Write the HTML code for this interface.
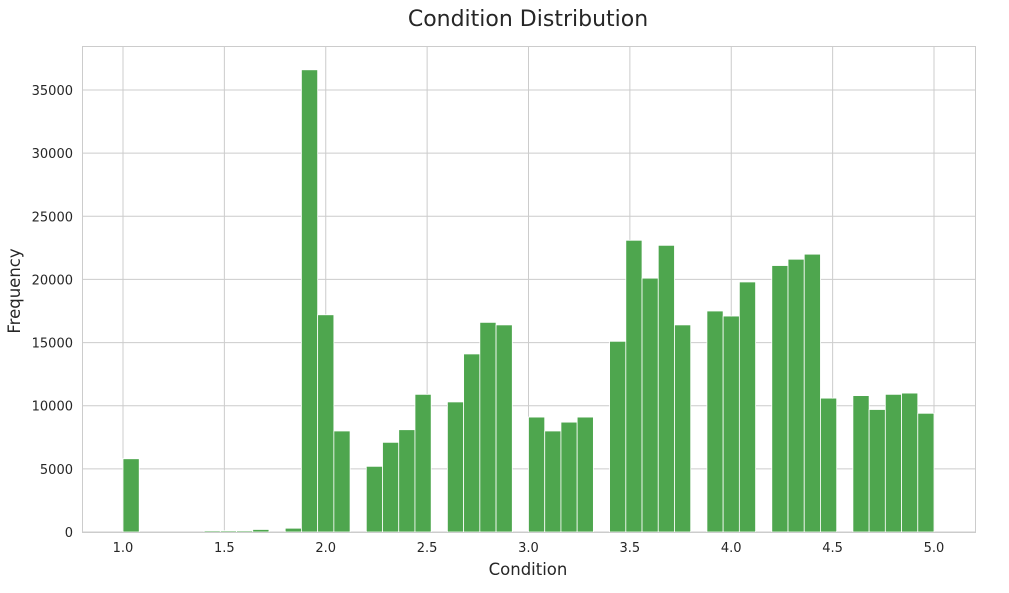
<!DOCTYPE html>
<html><head><meta charset="utf-8"><style>
html,body{margin:0;padding:0;background:#fff;}
svg text{font-family:"DejaVu Sans","Liberation Sans",sans-serif;fill:#262626;}
</style></head><body>
<svg id="chart" width="1009" height="588">
<text x="528" y="26" text-anchor="middle" font-size="22">Condition Distribution</text>
<g id="grid"></g><g id="bars"></g><g id="ticks"></g>
<rect x="82.5" y="46.5" width="893" height="486" fill="none" stroke="#cccccc"/>
<text x="528" y="575" text-anchor="middle" font-size="16.5">Condition</text>
<text transform="translate(20,291) rotate(-90)" text-anchor="middle" font-size="16.5">Frequency</text>
</svg>
<script>
const binStart = 1.0;
const binWidth = 0.08;
const counts = [5800,0,0,0,0,100,100,100,200,0,300,36600,17200,8000,0,5200,7100,8100,10900,0,10300,14100,16600,16400,0,9100,8000,8700,9100,0,15100,23100,20100,22700,16400,0,17500,17100,19800,0,21100,21600,22000,10600,0,10800,9700,10900,11000,9400];
const xTicks = [1.0,1.5,2.0,2.5,3.0,3.5,4.0,4.5,5.0];
const yTicks = [0,5000,10000,15000,20000,25000,30000,35000];
const NS="http://www.w3.org/2000/svg";
const X=v=>123+(v-1)*202.75;
const Y=v=>532-v*442/35000;
const grid=document.getElementById('grid'),bars=document.getElementById('bars'),ticks=document.getElementById('ticks');
function mk(t,a,p){const e=document.createElementNS(NS,t);for(const k in a)e.setAttribute(k,a[k]);p.appendChild(e);return e;}
xTicks.forEach(v=>{
  const l=mk('line',{x1:X(v),x2:X(v),y1:46,y2:532,stroke:'#cccccc'},grid);
  
  
  const t=mk('text',{x:X(v),y:552,'text-anchor':'middle','font-size':13},ticks);
  t.textContent=v.toFixed(1);
  
  
});
yTicks.forEach(v=>{
  const l=mk('line',{x1:82,x2:975,y1:Y(v),y2:Y(v),stroke:'#cccccc'},grid);
  
  
  const t=mk('text',{x:73,y:Y(v)+5,'text-anchor':'end','font-size':13},ticks);
  t.textContent=v;
  
  
});
counts.forEach((c,i)=>{
  if(c<=0)return;
  const x0=X(binStart+i*binWidth),x1=X(binStart+(i+1)*binWidth);
  const r=mk('rect',{x:x0,y:Y(c),width:x1-x0,height:Y(0)-Y(c),fill:'#4ea64e',stroke:'#ffffff','stroke-width':0.8},bars);
  
  
});
</script>
</body></html>
